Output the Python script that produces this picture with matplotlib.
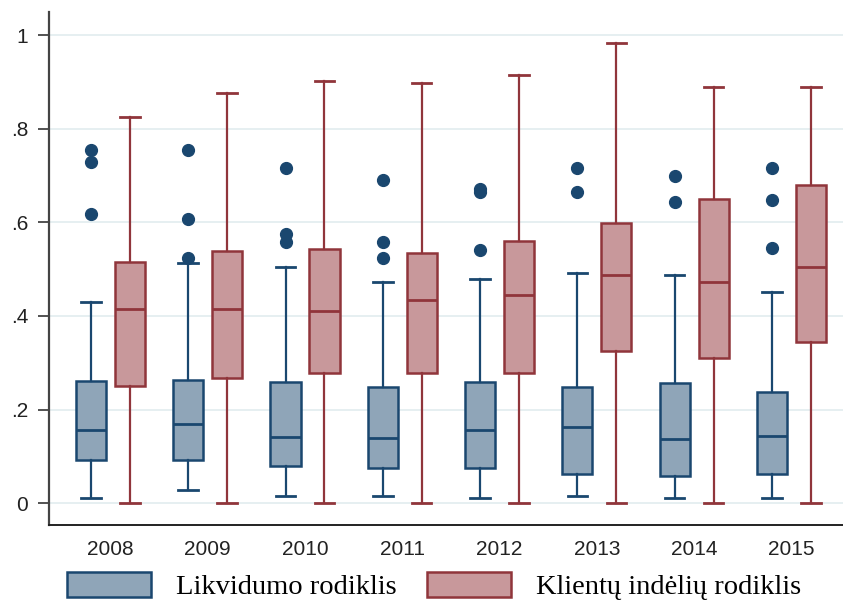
import numpy as np
import matplotlib
matplotlib.use("Agg")
from matplotlib import pyplot as plt
from matplotlib.patches import Patch

years = ["2008", "2009", "2010", "2011", "2012", "2013", "2014", "2015"]

# Likvidumo rodiklis: whisker ends, quartiles, median, outside values
liq_lo = [0.011, 0.028, 0.016, 0.016, 0.011, 0.016, 0.011, 0.011]
liq_q1 = [0.092, 0.092, 0.080, 0.075, 0.075, 0.063, 0.058, 0.063]
liq_med = [0.156, 0.170, 0.142, 0.140, 0.157, 0.162, 0.136, 0.144]
liq_q3 = [0.261, 0.264, 0.259, 0.248, 0.259, 0.248, 0.256, 0.238]
liq_hi = [0.430, 0.512, 0.504, 0.473, 0.478, 0.491, 0.487, 0.452]
liq_out = [
    [0.755, 0.728, 0.618],
    [0.754, 0.608, 0.524],
    [0.716, 0.576, 0.557],
    [0.690, 0.557, 0.523],
    [0.672, 0.664, 0.541],
    [0.716, 0.664],
    [0.699, 0.643],
    [0.716, 0.647, 0.544],
]

# Klientu indeliu rodiklis
dep_lo = [0.0, 0.0, 0.0, 0.0, 0.0, 0.0, 0.0, 0.0]
dep_q1 = [0.250, 0.268, 0.277, 0.277, 0.277, 0.324, 0.311, 0.345]
dep_med = [0.414, 0.414, 0.410, 0.433, 0.444, 0.487, 0.472, 0.505]
dep_q3 = [0.516, 0.538, 0.542, 0.534, 0.559, 0.599, 0.649, 0.680]
dep_hi = [0.825, 0.877, 0.902, 0.898, 0.915, 0.984, 0.889, 0.889]
dep_out = [[] for _ in years]

labels = ["Likvidumo rodiklis", "Klientų indėlių rodiklis"]

navy = "#1a476f"
navy_fill = "#8fa5b8"
maroon = "#90353b"
maroon_fill = "#c8989b"


def make_stats(lo, q1, med, q3, hi, out):
    return [dict(whislo=a, q1=b, med=c, q3=d, whishi=e, fliers=f)
            for a, b, c, d, e, f in zip(lo, q1, med, q3, hi, out)]


plt.rcParams["font.family"] = ["Liberation Sans", "DejaVu Sans"]

fig = plt.figure(figsize=(8.43, 6.05), dpi=100)
ax = fig.add_axes([0.058, 0.132, 0.942, 0.848])

pos = np.arange(1, len(years) + 1)
off = 0.2
width = 0.31


def draw(stats, x, edge, fill):
    ax.bxp(stats, positions=x, widths=width, patch_artist=True,
           showfliers=True, capwidths=0.2,
           boxprops=dict(facecolor=fill, edgecolor=edge, linewidth=1.8),
           medianprops=dict(color=edge, linewidth=2.0),
           whiskerprops=dict(color=edge, linewidth=1.6),
           capprops=dict(color=edge, linewidth=2.0),
           flierprops=dict(marker="o", markerfacecolor=navy,
                           markeredgecolor=navy, markersize=8.5))


draw(make_stats(liq_lo, liq_q1, liq_med, liq_q3, liq_hi, liq_out),
     pos - off, navy, navy_fill)
draw(make_stats(dep_lo, dep_q1, dep_med, dep_q3, dep_hi, dep_out),
     pos + off, maroon, maroon_fill)

ax.set_xlim(0.368, 8.53)
ax.set_ylim(-0.047, 1.049)
ax.set_yticks([0, 0.2, 0.4, 0.6, 0.8, 1.0])
ax.set_yticklabels(["0", ".2", ".4", ".6", ".8", "1"], fontsize=15)
ax.set_xticks(pos)
ax.set_xticklabels(years, fontsize=15)
ax.tick_params(axis="x", length=0, pad=11)
ax.tick_params(axis="y", length=8, width=1.3, color="#444444", pad=7)
for t in ax.get_xticklabels() + ax.get_yticklabels():
    t.set_color("#222222")

ax.grid(axis="y", color="#e6eff1", linewidth=1.4)
ax.set_axisbelow(True)
for side in ["top", "right"]:
    ax.spines[side].set_visible(False)
ax.spines["left"].set_color("#444444")
ax.spines["left"].set_linewidth(1.6)
ax.spines["bottom"].set_color("#222222")
ax.spines["bottom"].set_linewidth(1.4)

handles = [Patch(facecolor=navy_fill, edgecolor=navy, linewidth=1.8),
           Patch(facecolor=maroon_fill, edgecolor=maroon, linewidth=1.8)]
fig.legend(handles, labels, loc="center", bbox_to_anchor=(0.515, 0.031),
           ncol=2, frameon=False, handlelength=2.95, handleheight=0.95,
           handletextpad=0.9, columnspacing=1.05,
           prop=dict(family=["Liberation Serif", "DejaVu Serif"], size=20.5))

fig.savefig("out.png", dpi=100)
